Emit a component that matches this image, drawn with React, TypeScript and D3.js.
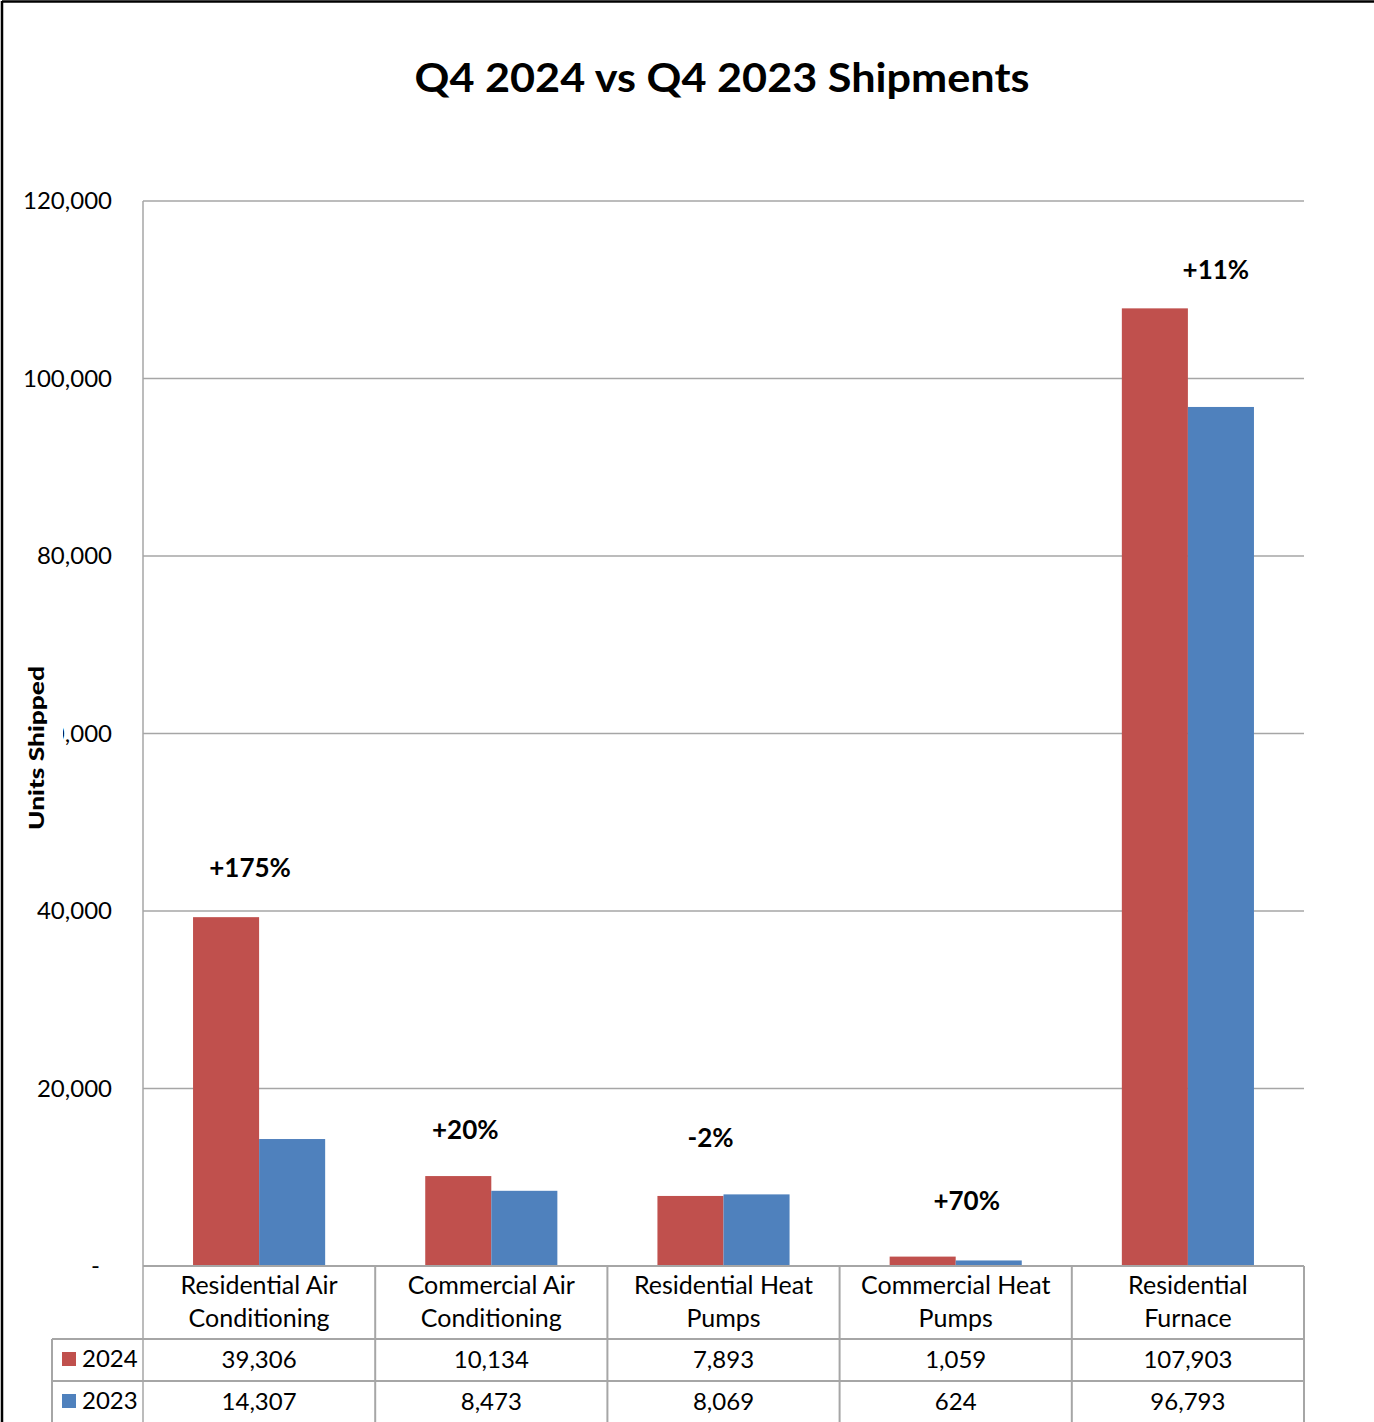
import React from "react";
import * as d3 from "d3";

const categories = [
  ["Residential Air", "Conditioning"],
  ["Commercial Air", "Conditioning"],
  ["Residential Heat", "Pumps"],
  ["Commercial Heat", "Pumps"],
  ["Residential", "Furnace"],
];
const series = ["2024", "2023"];
const values2024 = [39306, 10134, 7893, 1059, 107903];
const values2023 = [14307, 8473, 8069, 624, 96793];
const changeLabels = ["+175%", "+20%", "-2%", "+70%", "+11%"];
const yTicks = [0, 20000, 40000, 60000, 80000, 100000, 120000];

// hand-placed annotation nudges (layout only)
const annotDx = [-9, -26, -13, 11, 28];
const annotDy = [40, 37, 47, 47, 29];

const W = 1374;
const H = 1422;
const FONT = "Lato, 'Open Sans', sans-serif";
const RED = "#C0504D";
const BLUE = "#4F81BD";
const GRID = "#A6A6A6";

const App: React.FC = () => {
  const left = 143;
  const right = 1304;
  const top = 201;
  const bottom = 1266;
  const tableLeft = 52;
  const row1 = 1339;
  const row2 = 1381;
  const row3 = 1423;

  const keys = categories.map((c) => c.join(" "));
  const x = d3.scaleBand<string>().domain(keys).range([left, right]);
  const bw = x.bandwidth();
  const gap = bw * 0.2155;
  const xs = d3.scaleBand<string>().domain(series).range([gap, bw - gap]);
  const y = d3.scaleLinear().domain([0, 120000]).range([bottom, top]);
  const fmt = d3.format(",");
  const seriesValues = [values2024, values2023];
  const colors = [RED, BLUE];

  return (
    <svg
      width={W}
      height={H}
      style={{ display: "block", position: "absolute", left: 0, top: 0, fontFamily: FONT }}
    >
      <rect x={0} y={0} width={W} height={H} fill="#fff" />
      {/* outer frame */}
      <line x1={2} y1={1.5} x2={W} y2={1.5} stroke="#000" strokeWidth={2.5} />
      <line x1={2} y1={1} x2={2} y2={H} stroke="#000" strokeWidth={2.5} />

      <text
        x={722}
        y={92}
        textAnchor="middle"
        fontSize={40}
        fontWeight="bold"
        textLength={615}
        lengthAdjust="spacingAndGlyphs"
      >
        Q4 2024 vs Q4 2023 Shipments
      </text>

      {/* gridlines */}
      {yTicks.map((t) => (
        <line key={t} x1={left} x2={right} y1={y(t)} y2={y(t)} stroke={GRID} strokeWidth={1.5} />
      ))}
      <line x1={left} x2={left} y1={top} y2={row3} stroke={GRID} strokeWidth={1.5} />

      {/* y tick labels */}
      {yTicks.map((t) => (
        <text
          key={t}
          x={t === 0 ? 100 : 112}
          y={y(t) + 8}
          textAnchor="end"
          fontSize={24}
          fill="#000"
        >
          {t === 0 ? "-" : fmt(t)}
        </text>
      ))}

      {/* bars */}
      {seriesValues.map((vals, si) =>
        vals.map((v, i) => (
          <rect
            key={`${si}-${i}`}
            x={(x(keys[i]) as number) + (xs(series[si]) as number)}
            y={y(v)}
            width={xs.bandwidth()}
            height={bottom - y(v)}
            fill={colors[si]}
          />
        ))
      )}

      {/* change annotations */}
      {changeLabels.map((lab, i) => (
        <text
          key={lab}
          x={(x(keys[i]) as number) + bw / 2 + annotDx[i]}
          y={y(Math.max(values2024[i], values2023[i])) - annotDy[i]}
          textAnchor="middle"
          fontSize={26}
          fontWeight="bold"
        >
          {lab}
        </text>
      ))}

      {/* axis title with white backing */}
      <rect x={18} y={655} width={45} height={185} fill="#fff" />
      <text
        transform={`translate(44,748) rotate(-90)`}
        textAnchor="middle"
        fontSize={21}
        fontWeight={900}
        textLength={164}
        lengthAdjust="spacingAndGlyphs"
      >
        Units Shipped
      </text>

      {/* data table */}
      <line x1={left} x2={right} y1={bottom} y2={bottom} stroke={GRID} strokeWidth={2} />
      <line x1={tableLeft} x2={right} y1={row1} y2={row1} stroke={GRID} strokeWidth={2} />
      <line x1={tableLeft} x2={right} y1={row2} y2={row2} stroke={GRID} strokeWidth={2} />
      <line x1={tableLeft} x2={right} y1={row3} y2={row3} stroke={GRID} strokeWidth={2} />
      <line x1={tableLeft} x2={tableLeft} y1={row1} y2={row3} stroke={GRID} strokeWidth={2} />
      {keys.map((k) => (
        <line
          key={k}
          x1={(x(k) as number) + bw}
          x2={(x(k) as number) + bw}
          y1={bottom}
          y2={row3}
          stroke={GRID}
          strokeWidth={2}
        />
      ))}
      {categories.map((c, i) => (
        <text key={keys[i]} textAnchor="middle" fontSize={25}>
          <tspan x={(x(keys[i]) as number) + bw / 2} y={1294}>
            {c[0]}
          </tspan>
          <tspan x={(x(keys[i]) as number) + bw / 2} y={1327}>
            {c[1]}
          </tspan>
        </text>
      ))}
      {seriesValues.map((vals, si) => (
        <g key={series[si]}>
          <rect x={62} y={(si === 0 ? row1 : row2) + 13} width={14} height={14} fill={colors[si]} />
          <text x={82} y={(si === 0 ? row1 : row2) + 28} fontSize={24}>
            {series[si]}
          </text>
          {vals.map((v, i) => (
            <text
              key={i}
              x={(x(keys[i]) as number) + bw / 2}
              y={(si === 0 ? row1 : row2) + 29}
              textAnchor="middle"
              fontSize={24}
            >
              {fmt(v)}
            </text>
          ))}
        </g>
      ))}
    </svg>
  );
};

export default App;
